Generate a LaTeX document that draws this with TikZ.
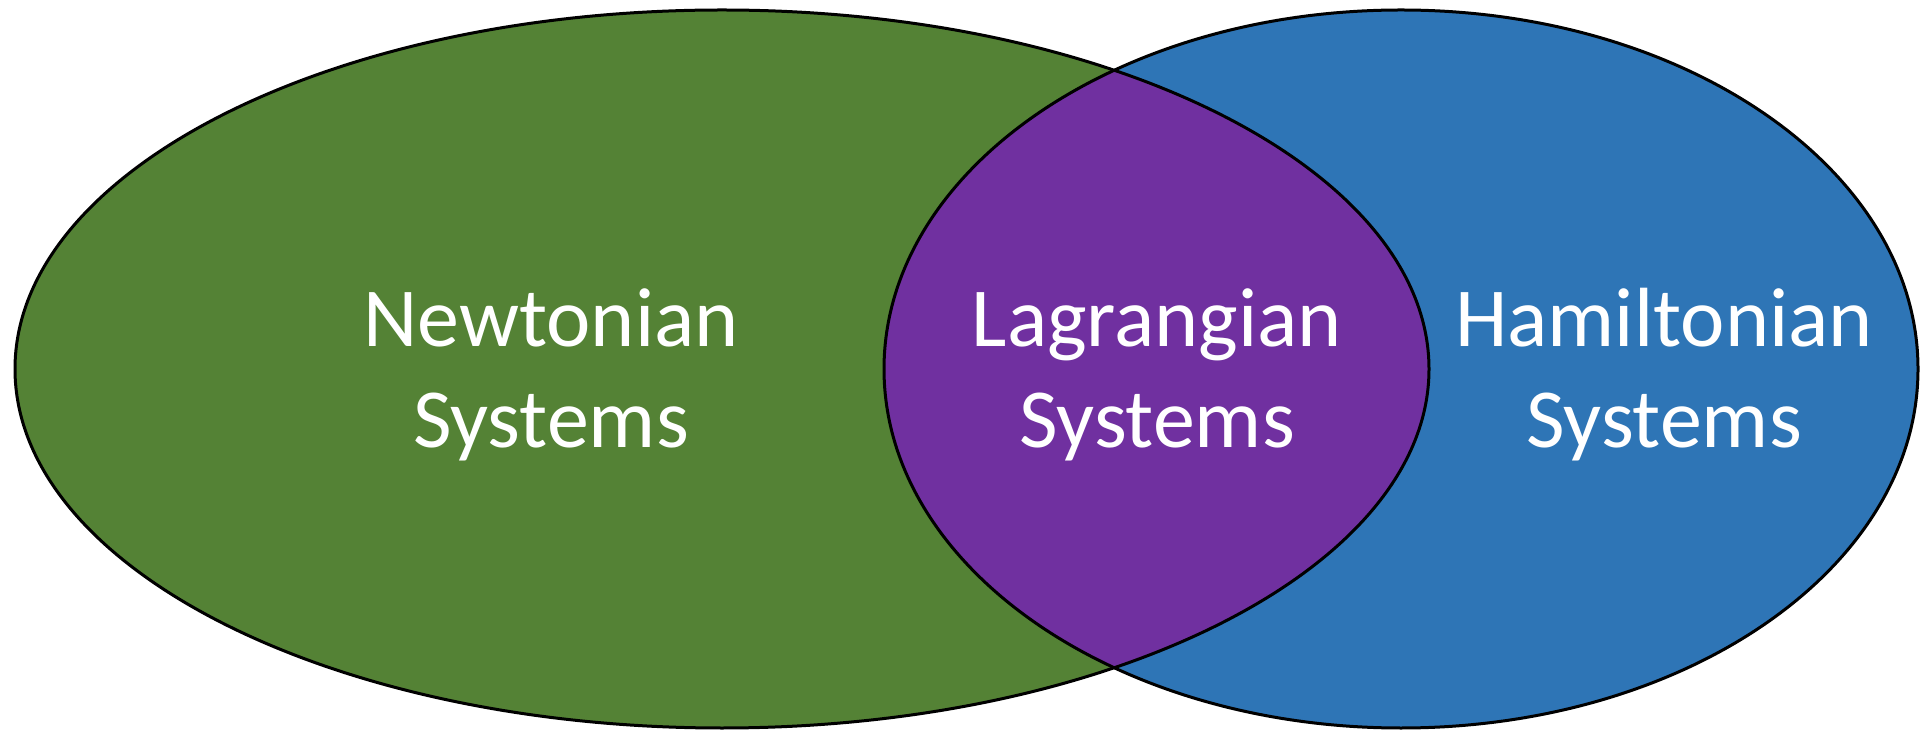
\documentclass[tikz,border=0pt]{standalone}
\usepackage{fontspec}
\setmainfont{Carlito}
\definecolor{newtgreen}{HTML}{548235}
\definecolor{hamblue}{HTML}{2E75B6}
\definecolor{lagpurple}{HTML}{7030A0}
\begin{document}
\begin{tikzpicture}[x=0.5pt,y=-0.5pt,
  outline/.style={draw=black,line width=1.5pt},
  label/.style={text=white,font=\fontsize{42}{50.5}\selectfont,anchor=base,inner sep=0pt}]
\useasboundingbox (0,0) rectangle (1921,731);
% ellipses
\fill[newtgreen] (722,369) ellipse [x radius=353.5pt, y radius=179.5pt];
\fill[hamblue] (1401,369) ellipse [x radius=258.5pt, y radius=179.5pt];
\begin{scope}
  \clip (722,369) ellipse [x radius=353.5pt, y radius=179.5pt];
  \fill[lagpurple] (1401,369) ellipse [x radius=258.5pt, y radius=179.5pt];
\end{scope}
\draw[outline] (722,369) ellipse [x radius=353.5pt, y radius=179.5pt];
\draw[outline] (1401,369) ellipse [x radius=258.5pt, y radius=179.5pt];
% labels
\node[label] (newt1) at (551,347) {Newtonian};
\node[label] (newt2) at (551,448) {Systems};
\node[label] (lag1) at (1157,347) {Lagrangian};
\node[label] (lag2) at (1157,448) {Systems};
\node[label] (ham1) at (1664,347) {Hamiltonian};
\node[label] (ham2) at (1664,448) {Systems};
\end{tikzpicture}
\end{document}
